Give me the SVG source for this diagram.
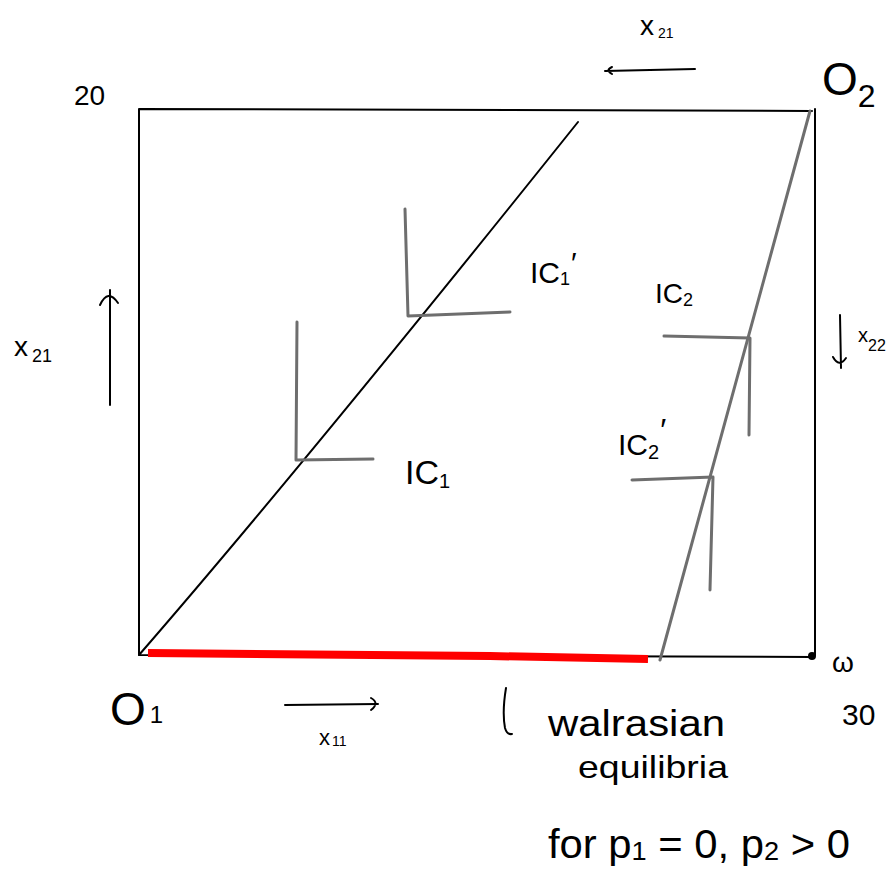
<svg xmlns="http://www.w3.org/2000/svg" width="889" height="886" viewBox="0 0 889 886">
<style>
.blk{fill:none;stroke:#000;stroke-width:2;stroke-linecap:round;stroke-linejoin:round}
.gry{fill:none;stroke:#6e6e6e;stroke-width:3;stroke-linecap:round;stroke-linejoin:round}
.red{fill:none;stroke:#ff0000;stroke-width:8;stroke-linecap:butt}
text{font-family:"Liberation Sans","DejaVu Sans",sans-serif;fill:#000}
</style>
<rect width="889" height="886" fill="#fff"/>
<g id="box">
<path class="blk" d="M139,109 L812,111 M815,109 L815,655 M139,655 L812,657 M139,109 L139,655"/>
<circle cx="812" cy="656" r="4" fill="#000"/>
</g>
<g id="connectors">
<path class="blk" d="M139,655 Q298,472 578,122"/>
<path class="gry" d="M810,111 L660,660"/>
<path class="red" d="M148,653 L490,656 L648,659"/>
<path class="blk" d="M695,69 L605,71 M612,67 Q605,70 612,74"/>
<path class="blk" d="M110,405 L110,290 M100,305 Q108,288 118,303"/>
<path class="blk" d="M840,315 L841,368 M833,357 Q839,368 846,358"/>
<path class="blk" d="M285,705 L378,704 M371,698 Q380,703 371,710"/>
<path class="blk" d="M506,688 Q502,712 505,728 Q507,735 512,734"/>
</g>
<g id="ic1">
<path class="gry" d="M297,322 L296,460 L373,459"/>
<text x="405" y="484" font-size="34">IC<tspan font-size="20" dy="4">1</tspan></text>
</g>
<g id="ic1p">
<path class="gry" d="M405,209 L408,316 L510,312"/>
<text x="530" y="283" font-size="30">IC<tspan font-size="18" dy="2">1</tspan><tspan font-size="30" dy="-12" dx="1">′</tspan></text>
</g>
<g id="ic2">
<path class="gry" d="M664,336 L750,338 L749,435"/>
<text x="655" y="303" font-size="28">IC<tspan font-size="18" dy="3">2</tspan></text>
</g>
<g id="ic2p">
<path class="gry" d="M632,480 L713,477 L710,590"/>
<text x="618" y="455" font-size="30">IC<tspan font-size="20" dy="4">2</tspan><tspan font-size="32" dy="-18" dx="1">′</tspan></text>
</g>
<g id="labels">
<text x="640" y="35" font-size="28">x<tspan font-size="14" dy="3" dx="4">21</tspan></text>
<text x="822" y="95" font-size="46">O<tspan font-size="32" dy="12">2</tspan></text>
<text x="74" y="105" font-size="28">20</text>
<text x="14" y="356" font-size="28">x<tspan font-size="18" dy="6" dx="4">21</tspan></text>
<text x="858" y="342" font-size="20">x<tspan font-size="16" dy="9">22</tspan></text>
<text x="110" y="725" font-size="46">O<tspan font-size="24" dy="-2" dx="4">1</tspan></text>
<text x="319" y="745" font-size="22">x<tspan font-size="14" dy="1" dx="2">11</tspan></text>
<text x="832" y="672" font-size="28">ω</text>
<text x="842" y="725" font-size="30">30</text>
<text x="548" y="736" font-size="37" textLength="177" lengthAdjust="spacingAndGlyphs">walrasian</text>
<text x="578" y="778" font-size="32" textLength="150" lengthAdjust="spacingAndGlyphs">equilibria</text>
<text x="548" y="858" font-size="40" textLength="302" lengthAdjust="spacingAndGlyphs">for p<tspan font-size="26" dy="2">1</tspan><tspan dy="-2"> = 0, p</tspan><tspan font-size="26" dy="2">2</tspan><tspan dy="-2"> &gt; 0</tspan></text>
</g>
</svg>
